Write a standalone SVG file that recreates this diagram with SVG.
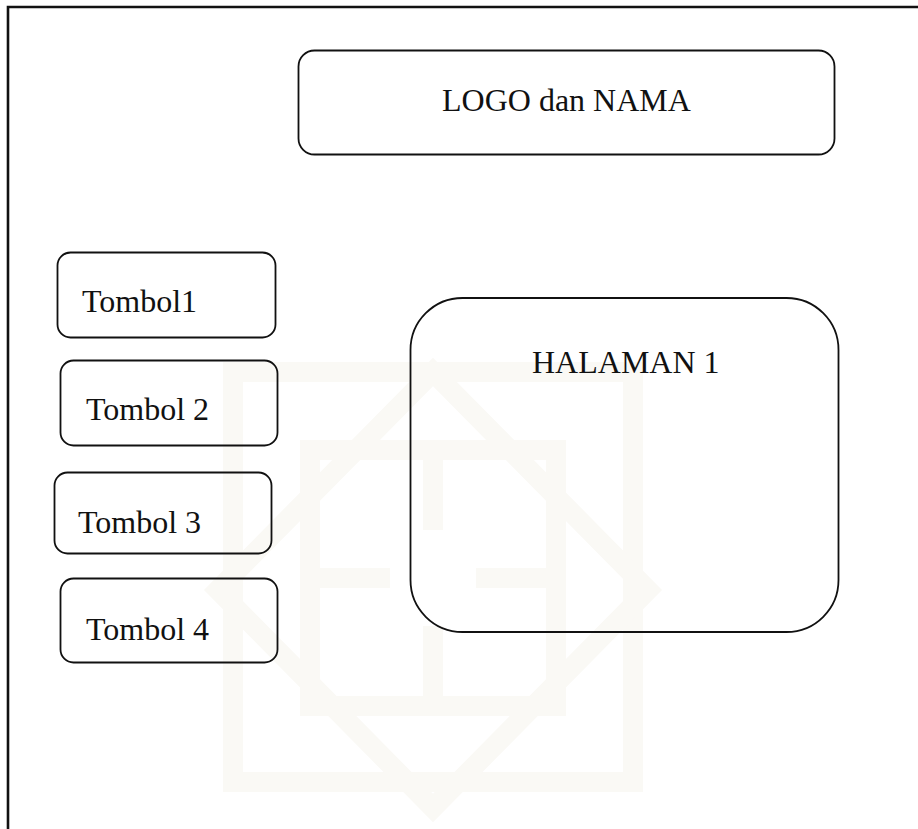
<svg xmlns="http://www.w3.org/2000/svg" width="918" height="829" viewBox="0 0 918 829">
  <style>
    .box { fill: none; stroke: #111; stroke-width: 1.8; }
    .label { font-family: "Liberation Serif", "Times New Roman", serif; font-size: 32px; fill: #111; }
    .mark { fill: none; stroke: #faf9f5; stroke-width: 20; stroke-linejoin: miter; }
    .frame { fill: none; stroke: #111; stroke-width: 2.6; }
  </style>

  <rect x="0" y="0" width="918" height="829" fill="#ffffff"/>

  <!-- faint background emblem -->
  <g id="watermark">
    <rect class="mark" x="233" y="372" width="400" height="410"/>
    <polygon class="mark" points="433,372 648,590 433,808 218,590"/>
    <rect class="mark" x="310" y="450" width="246" height="256"/>
    <path class="mark" d="M433,450 V530 M433,626 V706 M310,578 H390 M476,578 H556"/>
  </g>

  <!-- page frame (top and left edges) -->
  <path class="frame" d="M8,829 V7 H918"/>

  <g id="header">
    <rect class="box" x="298.5" y="50.5" width="536" height="104" rx="16"/>
    <text class="label" x="442" y="111">LOGO dan NAMA</text>
  </g>

  <g id="tombol1">
    <rect class="box" x="57.5" y="252.5" width="218" height="85" rx="13"/>
    <text class="label" x="82" y="312">Tombol1</text>
  </g>

  <g id="tombol2">
    <rect class="box" x="60.5" y="360.5" width="217" height="85" rx="13"/>
    <text class="label" x="86" y="420">Tombol 2</text>
  </g>

  <g id="tombol3">
    <rect class="box" x="54.5" y="472.5" width="217" height="81" rx="13"/>
    <text class="label" x="78" y="533">Tombol 3</text>
  </g>

  <g id="tombol4">
    <rect class="box" x="60.5" y="578.5" width="217" height="84" rx="13"/>
    <text class="label" x="86" y="640">Tombol 4</text>
  </g>

  <g id="halaman1">
    <rect class="box" x="410.5" y="298" width="428" height="334" rx="52"/>
    <text class="label" x="532" y="373">HALAMAN 1</text>
  </g>

  <g id="connectors"></g>
</svg>
